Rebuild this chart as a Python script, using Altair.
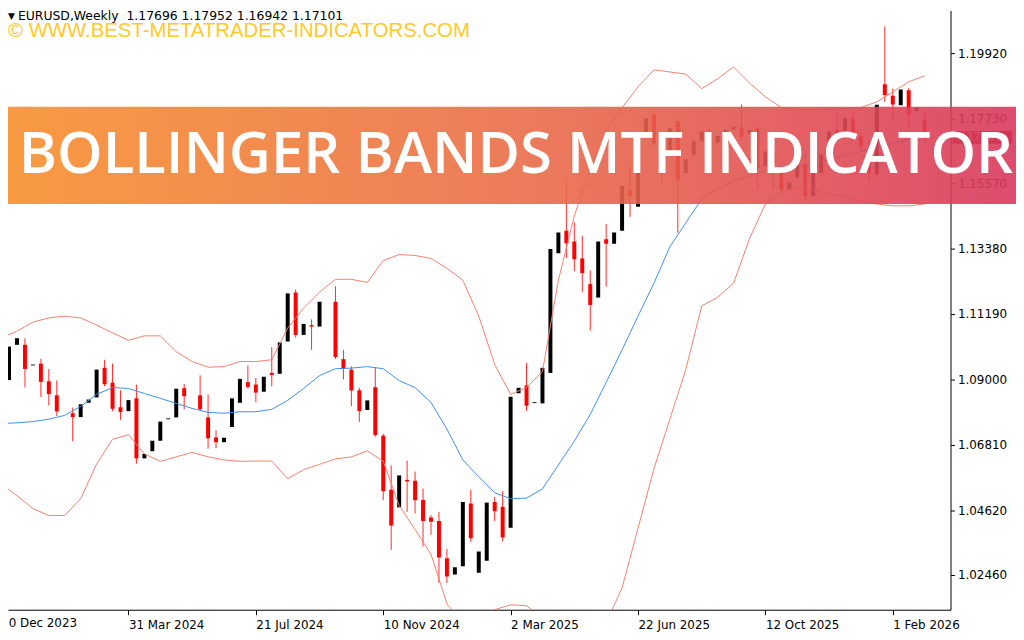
import altair as alt
import pandas as pd

# ---------------- data ----------------
week_index = list(range(1, 117))  # week 0 = 10 Dec 2023
opens = [1.0898, 1.1016, 1.1016, 1.0947, 1.0953, 1.0894, 1.0847, 1.0790, 1.0787, 1.0774,
         1.0822, 1.0840, 1.0939, 1.0889, 1.0807, 1.0794, 1.0837, 1.0636, 1.0660, 1.0695,
         1.0767, 1.0773, 1.0871, 1.0845, 1.0847, 1.0773, 1.0706, 1.0690, 1.0741, 1.0822,
         1.0891, 1.0883, 1.0859, 1.0922, 1.0919, 1.1027, 1.1191, 1.1049, 1.1082, 1.1077,
         1.1160, 1.1160, 1.0968, 1.0933, 1.0864, 1.0798, 1.0874, 1.0712, 1.0531, 1.0472,
         1.0564, 1.0561, 1.0497, 1.0438, 1.0426, 1.0302, 1.0247, 1.0275, 1.0485, 1.0253,
         1.0293, 1.0490, 1.0474, 1.0404, 1.0854, 1.0880, 1.0821, 1.0820, 1.0922, 1.1322,
         1.1398, 1.1362, 1.1305, 1.1219, 1.1174, 1.1369, 1.1354, 1.1398, 1.1533, 1.1478,
         1.1724, 1.1785, 1.1690, 1.1663, 1.1763, 1.1591, 1.1652, 1.1697, 1.1730, 1.1693,
         1.1723, 1.1736, 1.1743, 1.1723, 1.1741, 1.1614, 1.1658, 1.1608, 1.1536, 1.1575,
         1.1620, 1.1514, 1.1591, 1.1653, 1.1736, 1.1723, 1.1774, 1.1713, 1.1668, 1.1587,
         1.1888, 1.1849, 1.1818, 1.1868, 1.1798, 1.17696]
highs = [1.1010, 1.1038, 1.1038, 1.0950, 1.0969, 1.0935, 1.0897, 1.0790, 1.0806, 1.0817,
         1.0833, 1.0933, 1.0966, 1.0953, 1.0864, 1.0831, 1.0883, 1.0651, 1.0695, 1.0759,
         1.0770, 1.0869, 1.0885, 1.0845, 1.0914, 1.0850, 1.0730, 1.0705, 1.0837, 1.0902,
         1.0947, 1.0905, 1.0909, 1.1008, 1.1024, 1.1188, 1.1201, 1.1086, 1.1101, 1.1160,
         1.1160, 1.1212, 1.0999, 1.0944, 1.0872, 1.0830, 1.0939, 1.0718, 1.0612, 1.0579,
         1.0628, 1.0592, 1.0535, 1.0446, 1.0457, 1.0333, 1.0272, 1.0490, 1.0531, 1.0324,
         1.0488, 1.0507, 1.0526, 1.0842, 1.0872, 1.0955, 1.0824, 1.0939, 1.1337, 1.1392,
         1.1573, 1.1425, 1.1381, 1.1265, 1.1362, 1.1420, 1.1392, 1.1547, 1.1614, 1.1720,
         1.1774, 1.1796, 1.1700, 1.1741, 1.1775, 1.1637, 1.1697, 1.1730, 1.1745, 1.1715,
         1.1736, 1.1746, 1.1820, 1.1736, 1.1750, 1.1663, 1.1670, 1.1620, 1.1558, 1.1620,
         1.1655, 1.1591, 1.1653, 1.1730, 1.1807, 1.1774, 1.1800, 1.1725, 1.1700, 1.1819,
         1.2082, 1.1873, 1.1870, 1.1875, 1.1809, 1.17952]
lows = [1.0898, 1.1016, 1.0874, 1.0947, 1.0841, 1.0813, 1.0778, 1.0790, 1.0693, 1.0774,
        1.0822, 1.0840, 1.0877, 1.0794, 1.0765, 1.0794, 1.0618, 1.0636, 1.0660, 1.0695,
        1.0767, 1.0773, 1.0800, 1.0845, 1.0797, 1.0668, 1.0670, 1.0690, 1.0741, 1.0822,
        1.0869, 1.0824, 1.0859, 1.0877, 1.0919, 1.1027, 1.1040, 1.1049, 1.0999, 1.1077,
        1.1160, 1.0968, 1.0900, 1.0811, 1.0758, 1.0798, 1.0708, 1.0496, 1.0330, 1.0472,
        1.0457, 1.0452, 1.0341, 1.0380, 1.0219, 1.0219, 1.0247, 1.0275, 1.0356, 1.0253,
        1.0293, 1.0426, 1.0358, 1.0404, 1.0854, 1.0795, 1.0821, 1.0820, 1.0922, 1.1322,
        1.1307, 1.1262, 1.1193, 1.1064, 1.1174, 1.1210, 1.1354, 1.1398, 1.1444, 1.1478,
        1.1724, 1.1686, 1.1556, 1.1663, 1.1391, 1.1591, 1.1652, 1.1697, 1.1670, 1.1693,
        1.1723, 1.1736, 1.1700, 1.1723, 1.1542, 1.1614, 1.1537, 1.1520, 1.1536, 1.1575,
        1.1490, 1.1514, 1.1591, 1.1653, 1.1700, 1.1723, 1.1700, 1.1660, 1.1560, 1.1587,
        1.1829, 1.1763, 1.1818, 1.1741, 1.1798, 1.16942]
closes = [1.1010, 1.1038, 1.0935, 1.0950, 1.0892, 1.0851, 1.0793, 1.0790, 1.0774, 1.0817,
          1.0833, 1.0933, 1.0884, 1.0802, 1.0791, 1.0831, 1.0636, 1.0651, 1.0695, 1.0759,
          1.0770, 1.0869, 1.0844, 1.0845, 1.0800, 1.0703, 1.0690, 1.0705, 1.0837, 1.0902,
          1.0875, 1.0856, 1.0909, 1.0915, 1.1024, 1.1188, 1.1049, 1.1086, 1.1077, 1.1160,
          1.1160, 1.0975, 1.0935, 1.0863, 1.0794, 1.0830, 1.0714, 1.0526, 1.0411, 1.0579,
          1.0559, 1.0496, 1.0426, 1.0424, 1.0304, 1.0241, 1.0272, 1.0490, 1.0369, 1.0324,
          1.0488, 1.0459, 1.0371, 1.0842, 1.0872, 1.0812, 1.0824, 1.0939, 1.1337, 1.1392,
          1.1356, 1.1302, 1.1256, 1.1149, 1.1362, 1.1354, 1.1392, 1.1547, 1.1514, 1.1720,
          1.1774, 1.1686, 1.1625, 1.1741, 1.1569, 1.1637, 1.1697, 1.1730, 1.1693, 1.1715,
          1.1736, 1.1746, 1.1713, 1.1736, 1.1608, 1.1663, 1.1624, 1.1536, 1.1558, 1.1620,
          1.1514, 1.1591, 1.1653, 1.1730, 1.1723, 1.1774, 1.1719, 1.1680, 1.1590, 1.1819,
          1.1852, 1.1820, 1.1870, 1.1785, 1.1809, 1.17101]

band_index = [0.5] + list(range(2, 117, 2))
upper = [1.1044, 1.1062, 1.1092, 1.1106, 1.1112, 1.1106, 1.1082, 1.1056, 1.1031, 1.1046,
         1.1046, 1.0993, 1.0960, 1.0941, 1.0943, 1.0960, 1.0960, 1.0966, 1.1072, 1.1139,
         1.1192, 1.1235, 1.1235, 1.1225, 1.1298, 1.1318, 1.1315, 1.1305, 1.1272, 1.1232,
         1.1112, 1.0950, 1.0850, 1.0873, 1.0926, 1.1232, 1.1447, 1.1604, 1.1736, 1.1810,
         1.1879, 1.1936, 1.1929, 1.1922, 1.1873, 1.1906, 1.1946, 1.1892, 1.1846, 1.1810,
         1.1803, 1.1803, 1.1803, 1.1806, 1.1810, 1.1829, 1.1862, 1.1896, 1.1916]
middle = [1.0753, 1.0755, 1.0759, 1.0767, 1.0780, 1.0810, 1.0850, 1.0873, 1.0870, 1.0853,
          1.0837, 1.0820, 1.0803, 1.0790, 1.0787, 1.0792, 1.0792, 1.0800, 1.0830, 1.0870,
          1.0913, 1.0936, 1.0938, 1.0943, 1.0936, 1.0896, 1.0873, 1.0823, 1.0734, 1.0631,
          1.0574, 1.0521, 1.0501, 1.0503, 1.0534, 1.0614, 1.0694, 1.0783, 1.0890, 1.0999,
          1.1112, 1.1222, 1.1344, 1.1424, 1.1504, 1.1537, 1.1563, 1.1580, 1.1597, 1.1610,
          1.1617, 1.1623, 1.1637, 1.1650, 1.1663, 1.1677, 1.1690, 1.1703, 1.1713]
lower = [1.0541, 1.0511, 1.0468, 1.0445, 1.0445, 1.0501, 1.0617, 1.0700, 1.0715, 1.0651,
         1.0626, 1.0641, 1.0656, 1.0641, 1.0631, 1.0626, 1.0627, 1.0627, 1.0568, 1.0598,
         1.0616, 1.0634, 1.0641, 1.0661, 1.0627, 1.0478, 1.0398, 1.0315, 1.0149, 1.0086,
         1.0086, 1.0130, 1.0146, 1.0143, 1.0103, 1.0070, 1.0037, 1.0037, 1.0086, 1.0203,
         1.0402, 1.0601, 1.0767, 1.0933, 1.1146, 1.1175, 1.1222, 1.1371, 1.1487, 1.1527,
         1.1541, 1.1537, 1.1520, 1.1511, 1.1497, 1.1487, 1.1481, 1.1481, 1.1487]

y_ticks = [1.0246, 1.0462, 1.0681, 1.0900, 1.1119, 1.1338, 1.1557, 1.1773, 1.1992]
x_ticks = [0, 16, 32, 48, 64, 80, 96, 112]
x_labels = ["10 Dec 2023", "31 Mar 2024", "21 Jul 2024", "10 Nov 2024",
            "2 Mar 2025", "22 Jun 2025", "12 Oct 2025", "1 Feb 2026"]

header_text = "EURUSD,Weekly \u00a01.17696 1.17952 1.16942 1.17101"
watermark_text = "\u00a9 WWW.BEST-METATRADER-INDICATORS.COM"
banner_text = "BOLLINGER BANDS MTF INDICATOR"
last_price = [1.17101]

# ---------------- chart ----------------
candles = pd.DataFrame({"i": week_index, "open": opens, "high": highs,
                        "low": lows, "close": closes})
bands = pd.DataFrame({"i": band_index, "upper": upper, "middle": middle, "lower": lower})
one = pd.DataFrame({"a": [0]})
lastdf = pd.DataFrame({"price": last_price, "label": ["%.5f" % last_price[0]]})
first_tick = pd.DataFrame({"i": x_ticks[:1], "label": x_labels[:1]})

FONT = "DejaVu Sans"
xs = alt.Scale(domain=[1.493, 118.63], nice=False, zero=False)
ys = alt.Scale(domain=[1.01295, 1.21347], nice=False, zero=False)

label_expr = "[" + ",".join("'%s'" % s for s in x_labels) + "][round(datum.value/16)]"
x_axis = alt.Axis(values=x_ticks, labelExpr=label_expr, orient="bottom", labelAlign="left",
                  labelFont=FONT, labelFontSize=12, labelColor="#000000", tickColor="#000000",
                  tickSize=5, domainColor="#000000", labelPadding=5, grid=False, title=None,
                  labelFlush=False, labelOverlap=False, labelBound=False)
y_axis = alt.Axis(values=y_ticks, format=".5f", orient="right", labelFont=FONT,
                  labelFontSize=12, labelColor="#000000", tickColor="#000000", tickSize=4,
                  domainColor="#000000", labelPadding=3, grid=False, title=None,
                  labelOverlap=False, labelFlush=False)

X = alt.X("i:Q", scale=xs, axis=x_axis)

base = alt.Chart(candles)
wicks = base.mark_rule(color="#ff2a2a", strokeWidth=1, clip=True).encode(
    x=X, y=alt.Y("low:Q", scale=ys, axis=y_axis), y2="high:Q"
).transform_filter("datum.close < datum.open")

bodies = base.mark_bar(size=4, clip=True).encode(
    x=X, y=alt.Y("open:Q", scale=ys, axis=y_axis), y2="close:Q",
    color=alt.condition("datum.close < datum.open", alt.value("#ff0000"), alt.value("#000000"))
)

bb = alt.Chart(bands)
up_line = bb.mark_line(color="#f5806e", strokeWidth=1, clip=True).encode(
    x=X, y=alt.Y("upper:Q", scale=ys, axis=y_axis))
lo_line = bb.mark_line(color="#f5806e", strokeWidth=1, clip=True).encode(
    x=X, y=alt.Y("lower:Q", scale=ys, axis=y_axis))
mid_line = bb.mark_line(color="#3d8ff0", strokeWidth=1, clip=True).encode(
    x=X, y=alt.Y("middle:Q", scale=ys, axis=y_axis))

first_label = alt.Chart(first_tick).mark_text(font=FONT, fontSize=12, color="#000000",
                                              align="left", baseline="middle").encode(
    x=X, y=alt.value(617), text="label:N")

price_box = alt.Chart(lastdf).mark_rect(color="#9a0f1e", height=13).encode(
    x=alt.value(952), x2=alt.value(1012), y=alt.Y("price:Q", scale=ys, axis=y_axis))
price_txt = alt.Chart(lastdf).mark_text(font=FONT, fontSize=11, color="#ffffff",
                                        align="left", baseline="middle").encode(
    x=alt.value(956), y=alt.Y("price:Q", scale=ys, axis=y_axis), text="label:N")

grad = alt.LinearGradient(gradient="linear", x1=0, x2=1, y1=0, y2=0, stops=[
    alt.GradientStop(color="#f8902c", offset=0),
    alt.GradientStop(color="#ea6e48", offset=0.5),
    alt.GradientStop(color="#d9385c", offset=1)])
banner = alt.Chart(one).mark_rect(color=grad, opacity=0.9).encode(
    x=alt.value(-8), x2=alt.value(1016), y=alt.value(97), y2=alt.value(195))
banner_label = alt.Chart(one).mark_text(text=banner_text, font="Open Sans", fontWeight=600,
                                        fontSize=58.5, color="#ffffff", align="center",
                                        baseline="alphabetic").encode(
    x=alt.value(512), y=alt.value(164))

tri = alt.Chart(one).mark_text(text="\u25bc", font=FONT, fontSize=9, color="#000000",
                               align="left", baseline="alphabetic").encode(
    x=alt.value(0), y=alt.value(9))
header = alt.Chart(one).mark_text(text=header_text, font=FONT, fontSize=12.5,
                                  color="#000000", align="left",
                                  baseline="alphabetic").encode(
    x=alt.value(10), y=alt.value(10))
watermark = alt.Chart(one).mark_text(text=watermark_text, font="Liberation Sans",
                                     fontSize=20.5, color="#ffc926", align="left",
                                     baseline="alphabetic").encode(
    x=alt.value(0), y=alt.value(27))

chart = alt.layer(
    wicks, bodies, up_line, lo_line, mid_line, first_label, price_box, price_txt,
    banner, banner_label, tri, header, watermark
).properties(
    width=950, height=604,
    autosize=alt.AutoSizeParams(type="none"),
    padding={"left": 0, "top": 0, "right": 66, "bottom": 28},
    background="#ffffff"
).configure_view(stroke=None)

chart.save("out.html", embed_options={"renderer": "svg", "actions": False})
